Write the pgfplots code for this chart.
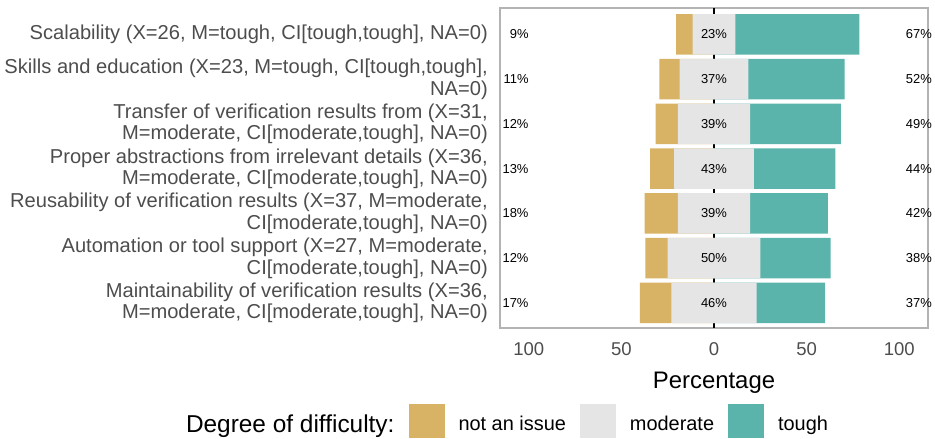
\documentclass[border=0pt]{standalone}
\usepackage{fontspec}
\setmainfont{Liberation Sans}
\usepackage{pgfplots}
\usepackage{pgfplotstable}
\pgfplotsset{compat=1.18}
\definecolor{cNot}{HTML}{D8B365}
\definecolor{cMod}{HTML}{E5E5E5}
\definecolor{cTough}{HTML}{5AB4AC}
\definecolor{cFrame}{HTML}{B3B3B3}
\definecolor{cLab}{HTML}{4D4D4D}

% percentages: not an issue / moderate / tough
\pgfplotstableread{
y  n  m  t
7  9  23 67
6  11 37 52
5  12 39 49
4  13 43 44
3  18 39 42
2  12 50 38
1  17 46 37
}\difficulty

\pgfplotsset{
  panel/.style={
    width=428bp, height=320bp, scale only axis,
    xmin=-115.5, xmax=115.5, ymin=0.441, ymax=7.592,
    /pgf/number format/assume math mode=true
  },
  keysq/.style={legend image code/.code={\fill[##1, draw=none] (0bp,-14bp) rectangle (36bp,20bp);}},
  seg/.style={forget plot, draw=none, fill=#1, bar shift=0pt}
}

\begin{document}
\begin{tikzpicture}
\begin{axis}[
  panel,
  xbar, bar width=40.5bp, bar shift=0pt,
  xtick={-100,-50,0,50,100}, xticklabels={100,50,0,50,100},
  ytick={1,...,7},
  yticklabels={
    {Maintainability of verification results (X=36,\\M=moderate, CI[moderate,tough], NA=0)},
    {Automation or tool support (X=27, M=moderate,\\CI[moderate,tough], NA=0)},
    {Reusability of verification results (X=37, M=moderate,\\CI[moderate,tough], NA=0)},
    {Proper abstractions from irrelevant details (X=36,\\M=moderate, CI[moderate,tough], NA=0)},
    {Transfer of verification results from (X=31,\\M=moderate, CI[moderate,tough], NA=0)},
    {Skills and education (X=23, M=tough, CI[tough,tough],\\NA=0)},
    {Scalability (X=26, M=tough, CI[tough,tough], NA=0)}},
  major tick length=0pt,
  axis line style={cFrame, line width=2.2bp},
  extra x ticks={0}, extra x tick labels={},
  extra x tick style={grid=major, major grid style={black, line width=1.6bp}},
  yticklabel style={font=\fontsize{20.2}{21.5}\selectfont, text=cLab, align=right, inner xsep=0pt, xshift=-12bp},
  xticklabel style={font=\fontsize{18.6}{20}\selectfont, text=cLab, inner ysep=0pt, yshift=-14bp},
  xlabel={Percentage},
  xlabel style={at={(axis description cs:0.5,0)}, anchor=base, yshift=-60bp, font=\fontsize{24}{28}\selectfont, text=black},
  legend columns=-1,
  legend style={draw=none, fill=none, inner sep=0pt, outer sep=0pt,
    column sep=14bp, nodes={inner sep=0pt},
    font=\fontsize{20}{24}\selectfont,
    at={(axis description cs:1,0)}, anchor=south east, xshift=-100bp, yshift=-110bp},
]
\addlegendimage{empty legend}
\addlegendentry{\fontsize{24.5}{28}\selectfont Degree of difficulty:}
\addlegendimage{keysq, fill=cNot}
\addlegendentry{not an issue}
\addlegendimage{keysq, fill=cMod}
\addlegendentry{moderate}
\addlegendimage{keysq, fill=cTough}
\addlegendentry{tough}

% bars start at 0: right side tough, left side not an issue, moderate split on top
\addplot[seg=cTough] table[x expr=\thisrow{m}/2+\thisrow{t}, y=y] {\difficulty};
\addplot[seg=cNot] table[x expr=-\thisrow{m}/2-\thisrow{n}, y=y] {\difficulty};
\addplot[seg=cMod] table[x expr=\thisrow{m}/2, y=y] {\difficulty};
\addplot[seg=cMod] table[x expr=-\thisrow{m}/2, y=y] {\difficulty};
\end{axis}

\begin{axis}[
  panel, hide axis, clip=false,
  point meta=explicit,
  nodes near coords={\pgfmathprintnumber{\pgfplotspointmeta}\%},
  every node near coord/.append style={font=\fontsize{13}{15}\selectfont, text=black},
]
\addplot[draw=none, mark=none, nodes near coords style={anchor=east, inner xsep=0pt}]
  table[x expr=-100, y=y, meta=n] {\difficulty};
\addplot[draw=none, mark=none, nodes near coords style={anchor=center}]
  table[x expr=0, y=y, meta=m] {\difficulty};
\addplot[draw=none, mark=none, nodes near coords style={anchor=west, inner xsep=0pt}]
  table[x expr=103.5, y=y, meta=t] {\difficulty};
\end{axis}
\pgfresetboundingbox
\path (-500bp,-111bp) rectangle (435bp,328bp);
\end{tikzpicture}
\end{document}
